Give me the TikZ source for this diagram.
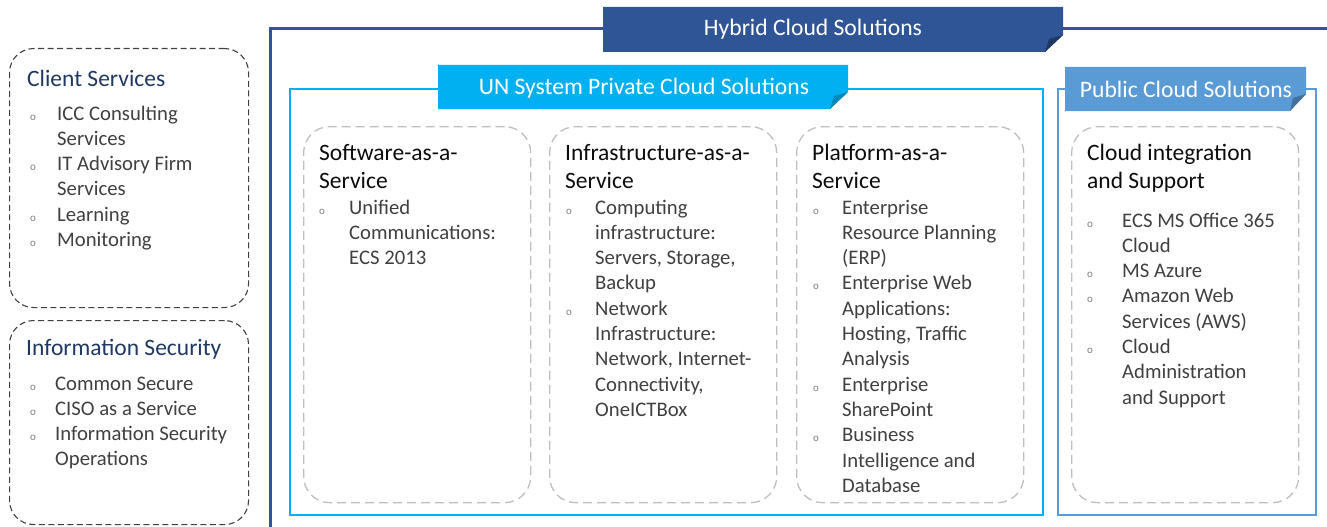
\documentclass[tikz,border=0pt]{standalone}
\usepackage{fontspec}
\setmainfont{Carlito}
\usepackage{array}
\definecolor{hyb}{HTML}{2F5597}
\definecolor{hybd}{HTML}{203864}
\definecolor{priv}{HTML}{00B0F0}
\definecolor{privd}{HTML}{0088BA}
\definecolor{pub}{HTML}{5B9BD5}
\definecolor{pubd}{HTML}{41719C}
\definecolor{navy}{HTML}{1F3864}
\definecolor{bodytxt}{HTML}{404040}
\definecolor{headtxt}{HTML}{0D0D0D}
\definecolor{dashg}{HTML}{BFBFBF}
\definecolor{dashd}{HTML}{404040}
\definecolor{bulg}{HTML}{808080}
\newcommand\bul{{\color{bulg}\fontsize{11}{11}\selectfont o}}
\newcommand\lst[2]{\begin{tabular}[t]{@{}w{l}{#1}@{}l@{}}#2\end{tabular}}
\newcommand\hd[1]{\begin{tabular}[t]{@{}l@{}}#1\end{tabular}}
\begin{document}
\begin{tikzpicture}[x=1pt,y=-1pt,
  svcbox/.style={draw=dashd, line width=1.1pt, rounded corners=24pt, dash pattern=on 6pt off 3.5pt, anchor=north west, inner sep=0pt},
  cellbox/.style={draw=dashg, line width=1.3pt, rounded corners=26pt, dash pattern=on 9pt off 5pt, anchor=north west, inner sep=0pt},
  framebox/.style={line width=#1, anchor=north west, inner sep=0pt},
  ttl/.style={anchor=base west, inner sep=0pt, font=\fontsize{23.5}{28.2}\selectfont},
  lsttxt/.style={anchor=base west, inner sep=0pt, font=\fontsize{20.7}{25.3}\selectfont, text=bodytxt},
  bantxt/.style={inner sep=0pt, text=white, font=\fontsize{23.6}{28}\selectfont}
]
\useasboundingbox (0,0) rectangle (1327,527);
\fill[white] (0,0) rectangle (1327,527);

% outer hybrid frame
\coordinate (hybR) at (1327,29);
\coordinate (hybB) at (270,527);
\draw[hyb, line width=3pt] (hybR) -- (270,29) -- (hybB);

% left service boxes
\node (cs) [svcbox, minimum width=239pt, minimum height=259pt] at (9,48) {};
\node (is) [svcbox, minimum width=239pt, minimum height=204pt] at (9,320) {};

% private and public frames
\node (priv) [framebox=2pt, draw=priv, minimum width=753pt, minimum height=426pt] at (289,88) {};
\node (pub) [framebox=2pt, draw=pub, minimum width=258pt, minimum height=426pt] at (1057,88) {};

% inner cells
\node (saas) [cellbox, minimum width=227pt, minimum height=376pt] at (303,126) {};
\node (iaas) [cellbox, minimum width=227pt, minimum height=376pt] at (549,126) {};
\node (paas) [cellbox, minimum width=227pt, minimum height=376pt] at (796,126) {};
\node (cis)  [cellbox, minimum width=227pt, minimum height=376pt] at (1071,126) {};

% banners
\fill[hyb] (603,7) -- (1063,7) -- (1063,35) -- (1045,52) -- (603,52) -- cycle;
\fill[hybd] (1063,35) -- (1045,52) -- (1049,39) -- cycle;
\node (hybt) [bantxt] at (813,29) {Hybrid Cloud Solutions};

\fill[priv] (438,65) -- (848,65) -- (848,92) -- (830,109) -- (438,109) -- cycle;
\fill[privd] (848,92) -- (830,109) -- (834,96) -- cycle;
\node (privt) [bantxt] at (644,88) {UN System Private Cloud Solutions};

\fill[pub] (1065,67) -- (1306,67) -- (1306,94) -- (1290,111) -- (1065,111) -- cycle;
\fill[pubd] (1306,94) -- (1290,111) -- (1293,98) -- cycle;
\node (pubt) [bantxt] at (1186,89) {Public Cloud Solutions};

% left box texts
\node (csh) [ttl, text=navy] at (27,86) {Client Services};
\node (csl) [lsttxt] at (30,120) {\lst{27pt}{\bul & ICC Consulting\\ & Services\\ \bul & IT Advisory Firm\\ & Services\\ \bul & Learning\\ \bul & Monitoring}};

\node (ish) [ttl, text=navy] at (26,355) {Information Security};
\node (isl) [lsttxt] at (30,390) {\lst{25pt}{\bul & Common Secure\\ \bul & CISO as a Service\\ \bul & Information Security\\ & Operations}};

% SaaS
\node (saash) [ttl, text=headtxt] at (319,160) {\hd{Software-as-a-\\Service}};
\node (saasl) [lsttxt] at (319,214) {\lst{30pt}{\bul & Unified\\ & Communications:\\ & ECS 2013}};

% IaaS
\node (iaash) [ttl, text=headtxt] at (565,160) {\hd{Infrastructure-as-a-\\Service}};
\node (iaasl) [lsttxt] at (566,214) {\lst{29pt}{\bul & Computing\\ & infrastructure:\\ & Servers, Storage,\\ & Backup\\ \bul & Network\\ & Infrastructure:\\ & Network, Internet-\\ & Connectivity,\\ & OneICTBox}};

% PaaS
\node (paash) [ttl, text=headtxt] at (812,160) {\hd{Platform-as-a-\\Service}};
\node (paasl) [lsttxt] at (813,214) {\lst{29pt}{\bul & Enterprise\\ & Resource Planning\\ & (ERP)\\ \bul & Enterprise Web\\ & Applications:\\ & Hosting, Traffic\\ & Analysis\\ \bul & Enterprise\\ & SharePoint\\ \bul & Business\\ & Intelligence and\\ & Database}};

% Cloud integration
\node (cish) [ttl, text=headtxt] at (1087,160) {\hd{Cloud integration\\and Support}};
\node (cisl) [lsttxt] at (1087,227) {\lst{35pt}{\bul & ECS MS Office 365\\ & Cloud\\ \bul & MS Azure\\ \bul & Amazon Web\\ & Services (AWS)\\ \bul & Cloud\\ & Administration\\ & and Support}};
\end{tikzpicture}
\end{document}
